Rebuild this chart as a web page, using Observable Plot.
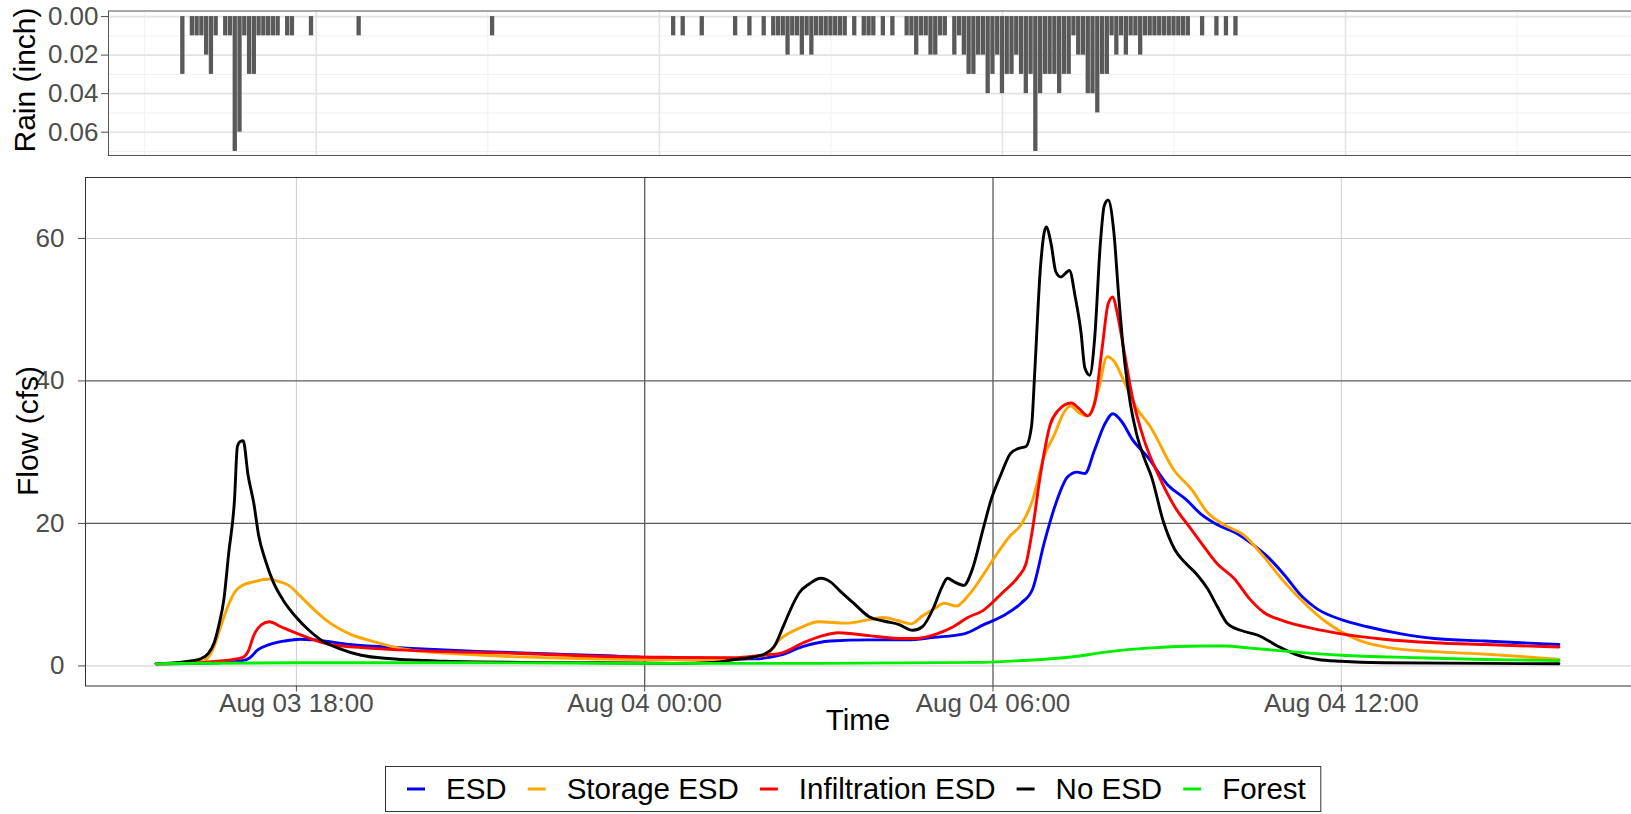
<!DOCTYPE html>
<html>
<head>
<meta charset="utf-8">
<script src="https://cdn.jsdelivr.net/npm/d3@7"></script>
<script src="https://cdn.jsdelivr.net/npm/@observablehq/plot@0.6"></script>
<style>
html, body { margin: 0; padding: 0; background: #ffffff; }
#wrap { position: relative; width: 1631px; height: 814px; overflow: hidden; background: #ffffff; }
#rain, #flow, #legend { position: absolute; left: 0; }
#rain { top: 0; }
#flow { top: 165px; }
#legend { top: 760px; }
svg { overflow: visible; }
</style>
</head>
<body>
<div id="wrap"><div id="rain"></div><div id="flow"></div><div id="legend"></div></div>
<script>
// ---------- DATA ----------
// times are "day HH:MM" in August
const xDomain = ["3 14:22", "4 17:00"];
const flowDomain = [-2.82, 68.55];
const rainDomain = [-0.0029, 0.0721];

const flowTicksX = ["3 18:00", "4 00:00", "4 06:00", "4 12:00"];
const flowTicksY = [0, 20, 40, 60];
const flowGridDarkX = ["4 00:00", "4 06:00"];
const flowGridDarkY = [20, 40];
const rainTicksY = [0, 0.02, 0.04, 0.06];
const rainMinorY = [0.01, 0.03, 0.05, 0.07];
const rainMinorX = ["3 15:00", "3 21:00", "4 03:00", "4 09:00", "4 15:00"];

const seriesNames = ["ESD", "Storage ESD", "Infiltration ESD", "No ESD", "Forest"];
const seriesColors = ["#0000ff", "#ffa500", "#ff0000", "#000000", "#00ee00"];

const rainTime = [
  "3 15:40","3 15:50","3 15:55","3 16:00","3 16:05","3 16:10","3 16:15","3 16:25","3 16:30","3 16:35",
  "3 16:40","3 16:45","3 16:50","3 16:55","3 17:00","3 17:05","3 17:10","3 17:15","3 17:20","3 17:30",
  "3 17:35","3 17:55","3 18:45","3 21:05",
  "4 00:15","4 00:25","4 00:45","4 01:20","4 01:35","4 01:50",
  "4 02:00","4 02:05","4 02:10","4 02:15","4 02:20","4 02:25","4 02:30","4 02:35","4 02:40","4 02:45",
  "4 02:50","4 02:55","4 03:00","4 03:05","4 03:10","4 03:15",
  "4 03:25","4 03:35","4 03:40","4 03:45","4 03:55","4 04:05",
  "4 04:20","4 04:25","4 04:30","4 04:35","4 04:40","4 04:45","4 04:50","4 04:55","4 05:00",
  "4 05:10","4 05:15","4 05:20","4 05:25","4 05:30","4 05:35","4 05:40","4 05:45","4 05:50","4 05:55",
  "4 06:00","4 06:05","4 06:10","4 06:15","4 06:20","4 06:25","4 06:30","4 06:35","4 06:40","4 06:45",
  "4 06:50","4 06:55","4 07:00","4 07:05","4 07:10","4 07:15","4 07:20","4 07:25","4 07:30","4 07:35",
  "4 07:40","4 07:45","4 07:50","4 07:55","4 08:00","4 08:05","4 08:10","4 08:15","4 08:20","4 08:25",
  "4 08:30","4 08:35","4 08:40","4 08:45","4 08:50","4 08:55","4 09:00","4 09:05","4 09:10","4 09:15",
  "4 09:30","4 09:45","4 09:55","4 10:05"
];
const rainInch = [
  0.03,0.01,0.01,0.01,0.02,0.03,0.01,0.01,0.01,0.07,
  0.06,0.01,0.03,0.03,0.01,0.01,0.01,0.01,0.01,0.01,
  0.01,0.01,0.01,0.01,
  0.01,0.01,0.01,0.01,0.01,0.01,
  0.01,0.01,0.01,0.02,0.01,0.01,0.02,0.01,0.02,0.01,
  0.01,0.01,0.01,0.01,0.01,0.01,
  0.01,0.01,0.01,0.01,0.01,0.01,
  0.01,0.01,0.02,0.01,0.01,0.02,0.02,0.01,0.01,
  0.02,0.01,0.02,0.03,0.03,0.02,0.02,0.04,0.03,0.02,
  0.04,0.03,0.03,0.02,0.03,0.04,0.03,0.07,0.04,0.03,
  0.03,0.03,0.04,0.03,0.03,0.01,0.02,0.02,0.04,0.04,
  0.05,0.03,0.03,0.01,0.02,0.01,0.02,0.01,0.01,0.02,
  0.01,0.01,0.01,0.01,0.01,0.01,0.01,0.01,0.01,0.01,
  0.01,0.01,0.01,0.01
];

const esdTime = ["3 15:35","3 16:30","3 17:04","3 17:12","3 17:20","3 17:32","3 17:48","3 18:04","3 18:19","3 18:55","3 19:54","3 21:13","3 22:32","3 23:52","4 00:34","4 01:53","4 02:20","4 02:44","4 03:12","4 03:52","4 04:31","4 04:59","4 05:30","4 05:50","4 06:10","4 06:29","4 06:41","4 06:53","4 07:05","4 07:17","4 07:27","4 07:35","4 07:45","4 07:55","4 08:04","4 08:13","4 08:24","4 08:40","4 09:00","4 09:20","4 09:35","4 09:52","4 10:13","4 10:26","4 10:44","4 11:01","4 11:19","4 11:35","4 12:00","4 12:27","4 13:02","4 13:36","4 14:28","4 15:45"];
const esdFlow = [0.3,0.4,0.75,1.15,2.25,3.0,3.5,3.75,3.65,3.0,2.5,2.0,1.65,1.25,0.9,1.0,1.5,2.75,3.5,3.65,3.65,4.0,4.5,5.75,7.0,8.8,10.8,17.3,22.8,26.5,27.2,27.0,30.3,33.8,35.4,34.3,31.8,29.3,25.5,23.3,21.3,19.8,18.5,17.3,15.3,12.8,9.8,8.0,6.5,5.5,4.5,3.85,3.5,3.0];

const storageTime = ["3 15:35","3 16:10","3 16:25","3 16:35","3 16:40","3 16:49","3 16:56","3 17:04","3 17:16","3 17:32","3 17:40","3 17:52","3 18:04","3 18:19","3 18:35","3 18:55","3 19:23","3 19:54","3 21:13","3 22:32","4 00:31","4 01:13","4 02:05","4 02:20","4 02:40","4 03:00","4 03:28","4 03:52","4 04:07","4 04:23","4 04:35","4 04:47","4 04:59","4 05:10","4 05:22","4 05:34","4 05:50","4 06:02","4 06:18","4 06:29","4 06:41","4 06:53","4 07:03","4 07:13","4 07:20","4 07:29","4 07:38","4 07:49","4 07:58","4 08:05","4 08:16","4 08:28","4 08:43","4 09:07","4 09:25","4 09:42","4 09:59","4 10:20","4 10:37","4 11:01","4 11:22","4 11:43","4 12:00","4 12:20","4 12:52","4 13:36","4 14:28","4 15:02","4 15:45"];
const storageFlow = [0.3,0.4,0.75,2.75,4.8,8.3,10.3,11.3,11.8,12.2,11.9,11.3,9.8,7.8,6.0,4.5,3.3,2.3,1.5,1.1,0.85,0.85,1.5,3.75,5.3,6.2,6.0,6.5,6.8,6.3,5.9,7.0,8.0,8.8,8.4,9.8,12.8,15.3,18.3,19.8,23.3,29.5,32.3,35.5,36.5,35.5,35.1,38.8,43.4,42.8,39.8,36.3,33.5,27.5,24.8,21.5,19.8,18.3,15.8,11.8,8.8,6.3,4.8,3.5,2.5,2.0,1.65,1.35,0.9];

const infilTime = ["3 15:35","3 16:20","3 16:37","3 16:52","3 17:04","3 17:10","3 17:16","3 17:24","3 17:32","3 17:44","3 17:56","3 18:11","3 18:35","3 19:15","3 20:34","3 21:53","3 23:12","4 00:31","4 01:33","4 02:01","4 02:20","4 02:44","4 03:04","4 03:20","4 03:52","4 04:23","4 04:39","4 05:02","4 05:19","4 05:34","4 05:50","4 06:10","4 06:26","4 06:34","4 06:41","4 06:49","4 06:59","4 07:07","4 07:21","4 07:29","4 07:38","4 07:45","4 07:53","4 07:59","4 08:04","4 08:08","4 08:16","4 08:24","4 08:36","4 08:52","4 09:08","4 09:23","4 09:35","4 09:52","4 10:09","4 10:26","4 10:40","4 11:01","4 11:29","4 12:00","4 12:44","4 13:36","4 14:28","4 15:45"];
const infilFlow = [0.3,0.45,0.65,0.85,1.15,2.0,4.3,5.8,6.2,5.5,4.8,4.0,3.0,2.5,2.0,1.75,1.35,1.2,1.15,1.5,1.75,3.25,4.25,4.65,4.25,3.85,3.85,4.5,5.5,6.8,7.8,10.3,12.5,14.3,19.3,26.8,33.8,35.8,36.9,36.1,35.1,36.8,44.8,50.8,51.8,49.8,43.8,37.8,31.8,26.5,22.3,19.5,17.3,14.3,12.3,9.3,7.5,6.3,5.3,4.5,3.75,3.25,3.0,2.65];

const noEsdTime = ["3 15:35","3 16:05","3 16:21","3 16:29","3 16:35","3 16:40","3 16:45","3 16:50","3 16:56","3 16:59","3 17:02","3 17:05","3 17:10","3 17:16","3 17:21","3 17:28","3 17:36","3 17:46","3 18:00","3 18:13","3 18:27","3 18:43","3 19:07","3 19:38","3 20:34","3 21:53","3 23:12","4 00:30","4 01:12","4 01:33","4 01:53","4 02:05","4 02:14","4 02:24","4 02:32","4 02:40","4 02:50","4 03:02","4 03:12","4 03:22","4 03:36","4 03:52","4 04:07","4 04:23","4 04:37","4 04:47","4 04:59","4 05:07","4 05:13","4 05:20","4 05:30","4 05:38","4 05:50","4 05:58","4 06:08","4 06:18","4 06:26","4 06:34","4 06:40","4 06:43","4 06:49","4 06:55","4 07:00","4 07:05","4 07:10","4 07:19","4 07:25","4 07:31","4 07:35","4 07:40","4 07:45","4 07:51","4 07:55","4 07:59","4 08:05","4 08:10","4 08:16","4 08:22","4 08:28","4 08:36","4 08:44","4 08:56","4 09:08","4 09:20","4 09:31","4 09:42","4 09:52","4 10:02","4 10:16","4 10:34","4 10:54","4 11:15","4 11:36","4 12:00","4 12:44","4 14:28","4 15:45"];
const noEsdFlow = [0.3,0.6,1.0,1.75,3.25,5.8,9.3,15.8,23.3,30.8,31.5,31.6,26.8,22.8,18.3,14.8,11.8,9.3,6.8,5.0,3.5,2.5,1.5,1.0,0.65,0.5,0.45,0.35,0.5,0.9,1.25,1.75,2.75,5.8,8.3,10.3,11.5,12.3,11.8,10.5,8.8,6.9,6.3,5.8,5.0,5.5,8.3,11.0,12.3,11.8,11.3,13.3,19.3,23.3,26.8,29.8,30.5,30.8,33.8,40.8,55.8,61.6,59.3,55.3,54.6,55.5,51.8,46.8,41.8,40.8,45.8,59.3,64.6,65.4,60.8,51.8,42.8,36.8,32.8,29.3,26.5,20.3,16.3,14.3,12.8,10.8,8.3,6.0,5.0,4.3,2.8,1.5,0.9,0.65,0.45,0.35,0.3];

const forestTime = ["3 15:35","3 18:00","3 21:00","4 00:00","4 03:00","4 05:50","4 06:30","4 07:21","4 08:00","4 08:40","4 09:35","4 10:00","4 10:26","4 11:08","4 12:00","4 13:18","4 14:28","4 15:45"];
const forestFlow = [0.3,0.45,0.45,0.35,0.35,0.5,0.75,1.25,2.0,2.5,2.8,2.8,2.5,2.0,1.5,1.15,0.9,0.75];

// ---------- BUILD ----------
const FONT = '"Liberation Sans", Arial, Helvetica, sans-serif';
const T = s => { const [d, hm] = s.split(" "); const [h, m] = hm.split(":").map(Number); return new Date(Date.UTC(2016, 7, +d, h, m)); };
const domainX = xDomain.map(T);

// Rain panel
const rainRows = rainTime.map((t, i) => ({time: T(t), rain: rainInch[i]}));
const halfBar = 2.25 * 60 * 1000;
const rainSvg = Plot.plot({
  width: 1631, height: 160,
  marginLeft: 108, marginRight: 0, marginTop: 10.5, marginBottom: 5,
  style: {fontFamily: FONT, fontSize: "26px", color: "#4d4d4d", background: "transparent"},
  x: {type: "utc", domain: domainX, axis: null},
  y: {domain: rainDomain, reverse: true, ticks: rainTicksY, tickFormat: d3.format(".2f"), tickSize: 7, tickPadding: 3, label: null},
  marks: [
    Plot.ruleX(rainMinorX.map(T), {stroke: "#f0f0f0", strokeWidth: 1}),
    Plot.ruleY(rainMinorY, {stroke: "#f0f0f0", strokeWidth: 1}),
    Plot.ruleX(flowTicksX.map(T), {stroke: "#e3e3e3", strokeWidth: 1.6}),
    Plot.ruleY(rainTicksY, {stroke: "#e3e3e3", strokeWidth: 1.6}),
    Plot.rect(rainRows, {x1: d => new Date(+d.time - halfBar), x2: d => new Date(+d.time + halfBar), y1: 0, y2: "rain", fill: "#595959"}),
    Plot.frame({stroke: "#555", strokeWidth: 1})
  ]
});
d3.select(rainSvg).append("text")
  .attr("transform", "translate(35,80) rotate(-90)")
  .attr("text-anchor", "middle").attr("font-size", 30).attr("font-family", FONT).attr("fill", "#000")
  .text("Rain (inch)");
document.getElementById("rain").appendChild(rainSvg);

// Flow panel
const seriesData = [[esdTime, esdFlow], [storageTime, storageFlow], [infilTime, infilFlow], [noEsdTime, noEsdFlow], [forestTime, forestFlow]];
const flowRows = [];
seriesNames.forEach((name, i) => {
  const [ts, vs] = seriesData[i];
  const n = Math.min(ts.length, vs.length);
  for (let j = 0; j < n; j++) flowRows.push({series: name, time: T(ts[j]), flow: vs[j]});
});
const lightX = flowTicksX.filter(d => !flowGridDarkX.includes(d)).map(T);
const darkX = flowGridDarkX.map(T);
const lightY = flowTicksY.filter(d => !flowGridDarkY.includes(d));

const flowSvg = Plot.plot({
  width: 1631, height: 600,
  marginLeft: 85, marginRight: 0, marginTop: 12, marginBottom: 79.5,
  style: {fontFamily: FONT, fontSize: "26px", color: "#4d4d4d", background: "transparent"},
  x: {type: "utc", domain: domainX, ticks: flowTicksX.map(T), tickFormat: d3.utcFormat("%b %d %H:%M"), tickSize: 6, tickPadding: 2, label: null},
  y: {domain: flowDomain, ticks: flowTicksY, tickSize: 7, tickPadding: 14, label: null},
  color: {domain: seriesNames, range: seriesColors},
  marks: [
    Plot.ruleX(lightX, {stroke: "#cccccc", strokeWidth: 1}),
    Plot.ruleY(lightY, {stroke: "#cccccc", strokeWidth: 1}),
    Plot.ruleX(darkX, {stroke: "#5c5c5c", strokeWidth: 1.3}),
    Plot.ruleY(flowGridDarkY, {stroke: "#5c5c5c", strokeWidth: 1.3}),
    Plot.line(flowRows, {x: "time", y: "flow", z: "series", stroke: "series", strokeWidth: 2.9, strokeLinejoin: "round", curve: "monotone-x"}),
    Plot.frame({stroke: "#333", strokeWidth: 1})
  ]
});
d3.select(flowSvg).append("text")
  .attr("transform", "translate(37.5,266) rotate(-90)")
  .attr("text-anchor", "middle").attr("font-size", 30).attr("font-family", FONT).attr("fill", "#000")
  .text("Flow (cfs)");
d3.select(flowSvg).append("text")
  .attr("transform", "translate(858,565)")
  .attr("text-anchor", "middle").attr("font-size", 29.5).attr("font-family", FONT).attr("fill", "#000")
  .text("Time");
document.getElementById("flow").appendChild(flowSvg);

// Legend (below the chart)
const leg = d3.select("#legend").append("svg").attr("width", 1631).attr("height", 54);
const box = leg.append("rect").attr("y", 6.5).attr("height", 45).attr("fill", "#fff").attr("stroke", "#333").attr("stroke-width", 1);
let lx = 385 + 22;
seriesNames.forEach((name, i) => {
  leg.append("line").attr("x1", lx).attr("x2", lx + 18).attr("y1", 29).attr("y2", 29)
    .attr("stroke", seriesColors[i]).attr("stroke-width", 3);
  lx += 18 + 21;
  const t = leg.append("text")
    .attr("transform", `translate(${lx},29)`)
    .attr("dy", "0.35em").attr("font-size", 29.5).attr("font-family", FONT).attr("fill", "#000")
    .text(name);
  lx += t.node().getComputedTextLength() + 21;
});
box.attr("x", 385.5).attr("width", lx - 21 + 15 - 385.5);
box.lower();
</script>
</body>
</html>
